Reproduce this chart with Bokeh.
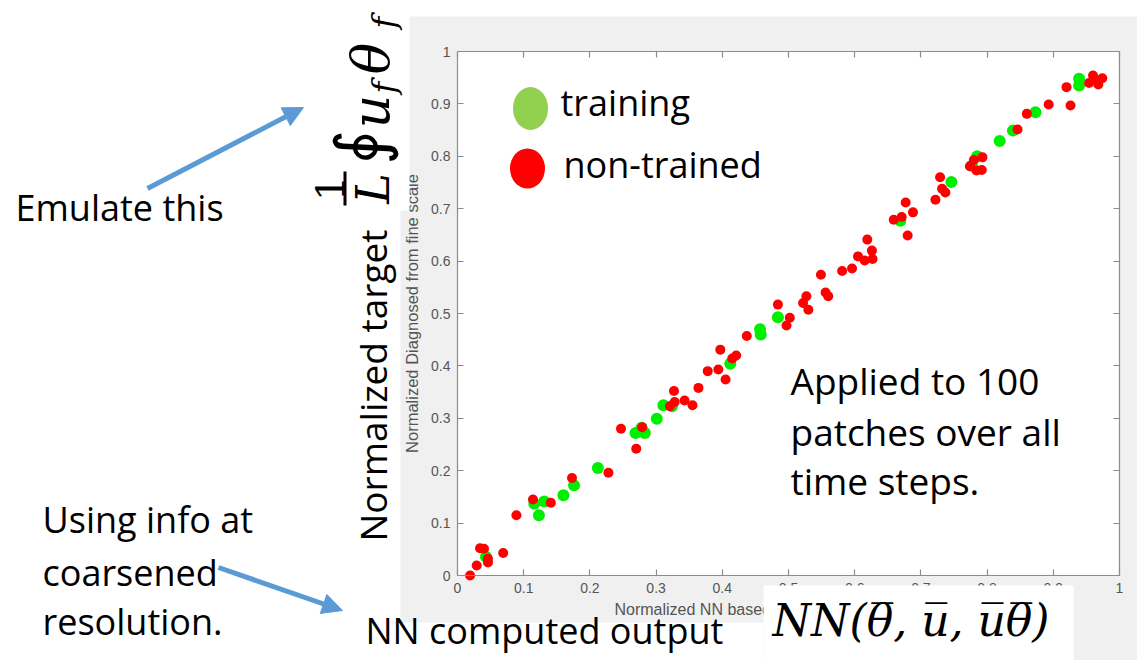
import math
from bokeh.plotting import figure
from bokeh.models import (Range1d, LinearAxis, FixedTicker, BoxAnnotation, Label,
                          Arrow, NormalHead, NumeralTickFormatter)
from bokeh.embed import file_html
from bokeh.resources import INLINE

# ---------------- data ----------------
train_x = [0.043, 0.116, 0.123, 0.131, 0.160, 0.176, 0.212, 0.269, 0.283, 0.278,
           0.301, 0.311, 0.324, 0.412, 0.457, 0.458, 0.484, 0.669, 0.746, 0.785,
           0.777, 0.819, 0.839, 0.873, 0.939, 0.939]
train_y = [0.036, 0.137, 0.115, 0.141, 0.153, 0.172, 0.205, 0.272, 0.272, 0.282,
           0.299, 0.325, 0.323, 0.404, 0.470, 0.460, 0.493, 0.677, 0.751, 0.800,
           0.782, 0.829, 0.849, 0.884, 0.948, 0.935]

red_x = [0.019, 0.029, 0.034, 0.040, 0.046, 0.046, 0.069, 0.089, 0.114, 0.141,
         0.173, 0.228, 0.247, 0.270, 0.279, 0.321, 0.327, 0.328, 0.343, 0.355,
         0.364, 0.378, 0.394, 0.397, 0.405, 0.415, 0.421, 0.437, 0.484, 0.502,
         0.497, 0.522, 0.527, 0.530, 0.549, 0.556, 0.560, 0.581, 0.596, 0.605,
         0.619, 0.615, 0.626, 0.627, 0.659, 0.671, 0.677, 0.688, 0.680, 0.722,
         0.729, 0.732, 0.737, 0.774, 0.780, 0.784, 0.793, 0.792, 0.846, 0.860,
         0.893, 0.926, 0.920, 0.954, 0.960, 0.968, 0.974, 0.964]
red_y = [0.000, 0.019, 0.052, 0.051, 0.025, 0.032, 0.043, 0.115, 0.145, 0.139,
         0.186, 0.196, 0.280, 0.242, 0.283, 0.323, 0.352, 0.331, 0.334, 0.325,
         0.358, 0.390, 0.393, 0.431, 0.374, 0.414, 0.420, 0.457, 0.517, 0.492,
         0.477, 0.520, 0.533, 0.507, 0.574, 0.540, 0.533, 0.581, 0.586, 0.609,
         0.641, 0.601, 0.620, 0.604, 0.679, 0.684, 0.712, 0.693, 0.649, 0.717,
         0.760, 0.738, 0.731, 0.781, 0.793, 0.773, 0.798, 0.774, 0.851, 0.881,
         0.899, 0.897, 0.932, 0.940, 0.954, 0.937, 0.949, 0.945]

tick_values = [0, 0.1, 0.2, 0.3, 0.4, 0.5, 0.6, 0.7, 0.8, 0.9, 1]

# ---------------- layout helpers ----------------
W, H = 1137, 660
PX0, PX1 = 457, 1119   # screen x of data x=0 and x=1
PY0, PY1 = 575, 51     # screen y of data y=0 and y=1
DESC = 0.24            # font descent (em), labels are anchored at their bottom


def dx(px):
    return (px - PX0) / (PX1 - PX0)


def dy(py):
    return (PY0 - py) / (PY0 - PY1)


p = figure(width=W, height=H, x_range=Range1d(dx(0), dx(W)), y_range=Range1d(dy(H), dy(0)),
           x_axis_type=None, y_axis_type=None, toolbar_location=None,
           output_backend="svg", min_border=0, outline_line_color=None,
           background_fill_color="white", border_fill_color="white")

# backgrounds
p.add_layout(BoxAnnotation(left=dx(400), right=dx(W), top=dy(16), bottom=dy(H),
                           fill_color="#f0f0f0", fill_alpha=1, line_color=None, level="underlay"))
p.add_layout(BoxAnnotation(left=0, right=1, top=1, bottom=0,
                           fill_color="white", fill_alpha=1, line_color=None, level="underlay"))

# data
p.scatter(train_x, train_y, size=12, fill_color="#00ee00", line_color=None)
p.scatter(red_x, red_y, size=10, fill_color="#ff0000", line_color=None)

# legend swatches (slide overlay)
p.ellipse(x=[dx(530)], y=[dy(108)], width=35, height=43, width_units="screen",
          height_units="screen", fill_color="#92d050", line_color=None)
p.ellipse(x=[dx(527)], y=[dy(168)], width=35, height=40, width_units="screen",
          height_units="screen", fill_color="#ff0000", line_color=None)

AX = "#8c8c8c"
TXT = "#555555"


def make_axis(loc, labels):
    ax = LinearAxis(fixed_location=loc, bounds=(0, 1), ticker=FixedTicker(ticks=tick_values),
                    formatter=NumeralTickFormatter(format="0.[0]"),
                    axis_line_color=AX, axis_line_width=1.2,
                    major_tick_line_color=AX, major_tick_line_width=1.2,
                    major_tick_in=6, major_tick_out=0, minor_tick_line_color=None,
                    major_label_text_font="Liberation Sans", major_label_text_font_size="14px",
                    major_label_text_color=TXT if labels else None, major_label_standoff=7)
    return ax


yax = make_axis(0, True)
yax.axis_label = "Normalized Diagnosed from fine scale"
yax.axis_label_text_font = "Liberation Sans"
yax.axis_label_text_font_size = "16.5px"
yax.axis_label_text_font_style = "normal"
yax.axis_label_text_color = TXT
yax.axis_label_standoff = 7
p.add_layout(yax, "left")
p.add_layout(make_axis(0, True), "below")
p.add_layout(make_axis(1, False), "right")
p.add_layout(make_axis(1, False), "above")

p.add_layout(Label(x=dx(614), y=dy(614 + 16 * 0.21), text="Normalized NN based prediction",
                   text_font="Liberation Sans", text_font_size="16px", text_color=TXT))

# white cover boxes of the slide
for l, r, t, b in [(290, 409, 0, 210), (355, 763, 622, H), (763, 1073, 585, H)]:
    p.add_layout(BoxAnnotation(left=dx(l), right=dx(r), top=dy(t), bottom=dy(b),
                               fill_color="white", fill_alpha=1, line_color=None))

SANS = "Open Sans"


def lab(text, px, py, size=36, rot=False, **kw):
    off = DESC * size
    if rot:
        px, ang = px + off, math.pi / 2
    else:
        py, ang = py + off, 0
    p.add_layout(Label(x=dx(px), y=dy(py), text=text, text_font=kw.pop("font", SANS),
                       text_font_size=f"{size}px", text_color="black", angle=ang, **kw))


# px, py below give the text baseline
lab("training", 560, 118)
lab("non-trained", 563, 180)
lab("Applied to 100", 790, 397, size=37)
lab("patches over all", 790, 448, size=37)
lab("time steps.", 790, 497, size=37)
lab("Emulate this", 15, 223)
lab("Using info at", 42, 535)
lab("coarsened", 42, 588)
lab("resolution.", 42, 637)
lab("NN computed output", 365, 646)
lab("Normalized target", 389, 385, size=37, rot=True, text_align="center")

SERIF = "DejaVu Serif"
lab("NN(\u03b8\u0305, u\u0305, u\u0305\u03b8\u0305)", 772, 635, size=44, font=SERIF,
    text_font_style="italic")

# vertical formula 1/L ∮ u_f θ_f
lab("1", 334, 188, size=40, font=SERIF, rot=True, text_align="center")
p.add_layout(BoxAnnotation(left=dx(343), right=dx(346), top=dy(171), bottom=dy(205),
                           fill_color="black", fill_alpha=1, line_color=None))
lab("L", 388, 188, size=46, font=SERIF, rot=True, text_align="center",
    text_font_style="italic")
lab("\u222e", 383, 147, size=68, font=SERIF, rot=True, text_align="center")
lab("u", 388, 111, size=52, font=SERIF, rot=True, text_align="center",
    text_font_style="italic")
lab("f", 395, 87, size=32, font=SERIF, rot=True, text_align="center",
    text_font_style="italic")
lab("\u03b8", 388, 58, size=52, font=SERIF, rot=True, text_align="center",
    text_font_style="italic")
lab("f", 395, 22, size=32, font=SERIF, rot=True, text_align="center",
    text_font_style="italic")

# arrows
BLUE = "#5b9bd5"
for x0, y0, x1, y1 in [(147, 188, 303, 107), (218, 567, 342, 610)]:
    p.add_layout(Arrow(x_start=dx(x0), y_start=dy(y0), x_end=dx(x1), y_end=dy(y1),
                       line_color=BLUE, line_width=5,
                       end=NormalHead(size=20, fill_color=BLUE, line_color=BLUE)))

open("out.html", "w").write(file_html(p, INLINE))
